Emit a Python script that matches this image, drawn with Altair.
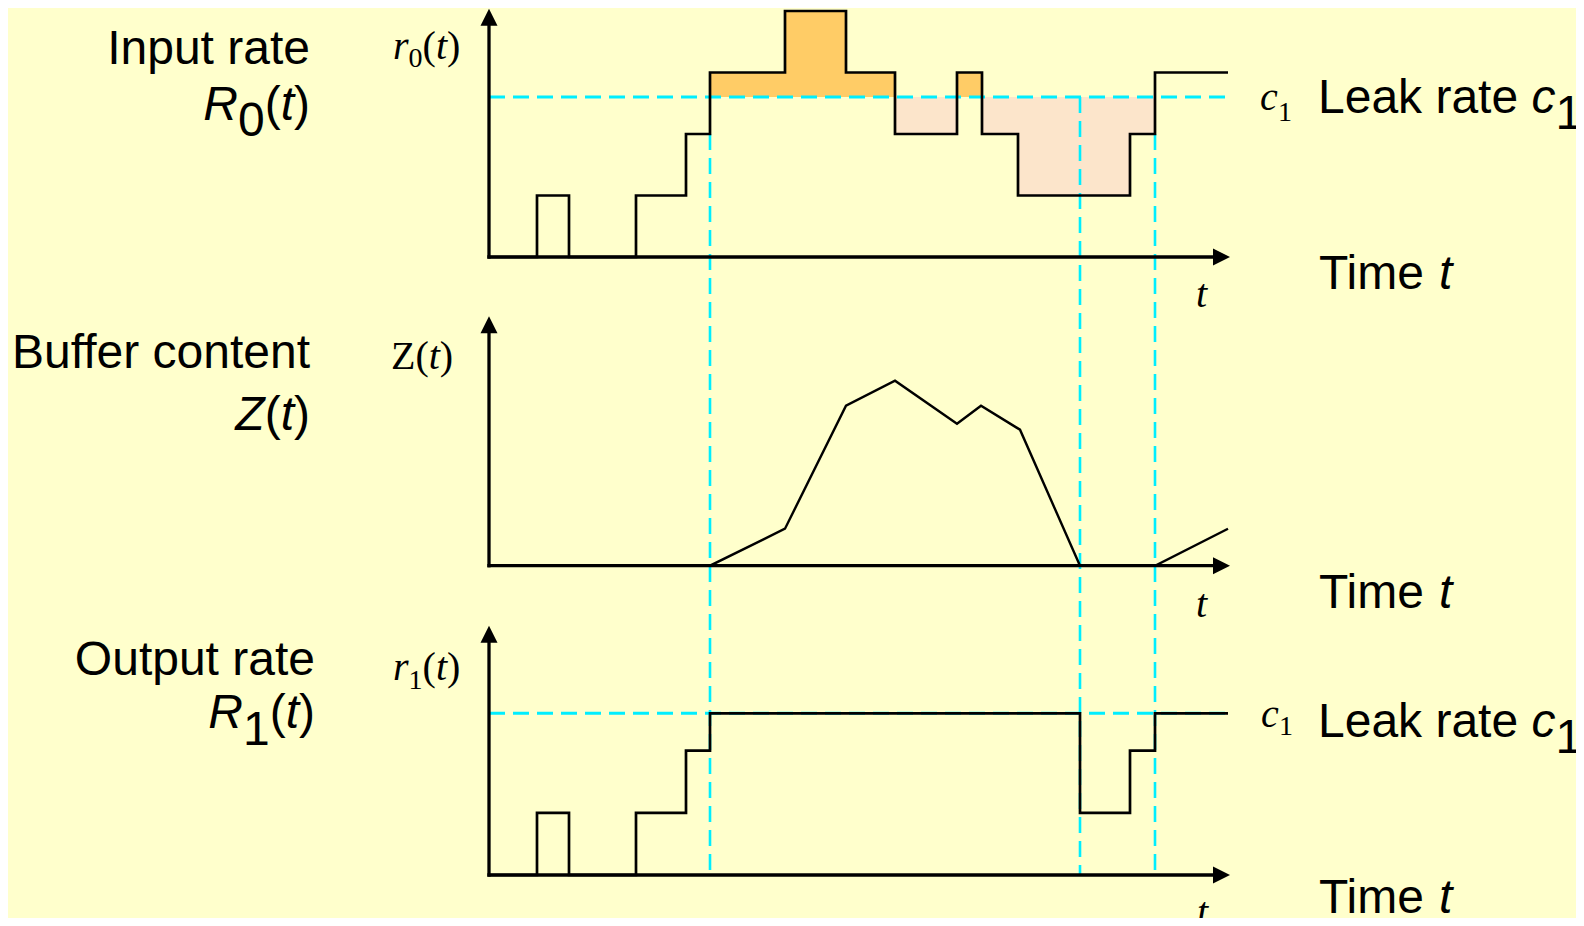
import altair as alt
import pandas as pd

# ---------------- data ----------------
# time in arbitrary units (axis origin = 0)
T_R0 = [0, 4.8, 8.0, 14.7, 19.7, 22.1, 29.6, 35.7, 40.6, 46.8, 49.3, 52.9, 64.1, 66.6, 73.9]
R0 = [0, 1, 0, 1, 2, 3, 4, 3, 2, 3, 2, 1, 2, 3, 3]          # input rate levels (step-after)

T_Z = [0, 22.1, 29.6, 35.7, 40.6, 46.8, 49.2, 53.1, 59.1, 66.6, 73.9]
Z = [0, 0, 3.7, 16.0, 18.5, 14.2, 16.0, 13.6, 0, 0, 3.7]      # buffer content

T_R1 = [0, 4.8, 8.0, 14.7, 19.7, 22.1, 59.1, 64.1, 66.6, 73.9]
R1 = [0, 1, 0, 1, 2, 2.6, 1, 2, 2.6, 2.6]                     # output rate levels (step-after)

C1 = 2.6                       # leak rate
T_END = 73.9                   # end of drawn signals
T_MARKS = [22.1, 59.1, 66.6]   # instants marked by vertical dashed lines
MARK_START = [2.0, 2.6, 2.0]   # r0 level where each marker starts
OVER_RANGE = [22.1, 49.3]      # interval where surplus (r0 > c1) is shaded
UNDER_RANGE = [40.6, 66.6]     # interval where deficit (r0 < c1) is shaded

# axis arrow extents (data units of each panel)
T_ARROW = 73.25
TOP_ARROW = 3.9
MID_ARROW = 24.1
BOT_ARROW = 3.87

# ---------------- layout ----------------
W, H = 1568, 910
PAGE = 8
X0_PX, T_PX = 481.0, 10.0
TOP_BASE_PX, TOP_UNIT = 249.0, 61.5
MID_BASE_PX, MID_UNIT = 557.7, 10.0
BOT_BASE_PX, BOT_UNIT = 867.0, 62.2

BG = "#FFFFCC"
ORANGE = "#FFCC66"
STIPPLE = "#FCE5CB"
CYAN = "#00EEFF"
SANS = "Liberation Sans"
SERIF = "Liberation Serif"
DASH = [16, 8]

XS = alt.Scale(domain=[-X0_PX / T_PX, (W - X0_PX) / T_PX], nice=False, zero=False)


def yscale(base_px, unit):
    return alt.Scale(domain=[(base_px - H) / unit, base_px / unit], nice=False, zero=False)


YT = yscale(TOP_BASE_PX, TOP_UNIT)
YM = yscale(MID_BASE_PX, MID_UNIT)
YB = yscale(BOT_BASE_PX, BOT_UNIT)


def xe(f):
    return alt.X(f, type="quantitative", scale=XS, axis=None)


def ye(f, ys):
    return alt.Y(f, type="quantitative", scale=ys, axis=None)


RIGHT_PATH = "M -1 -1 L 1 0 L -1 1 Z"
UP_PATH = "M -1 1 L 0 -1 L 1 1 Z"


def axes(ys, top_val):
    h = pd.DataFrame({"t0": [0], "t1": [T_ARROW], "v": [0]})
    v = pd.DataFrame({"t": [0], "v0": [0], "v1": [top_val]})
    hr = alt.Chart(h).mark_rule(color="black", strokeWidth=3.3, strokeCap="square").encode(
        x=xe("t0"), x2="t1", y=ye("v", ys))
    vr = alt.Chart(v).mark_rule(color="black", strokeWidth=3.3, strokeCap="square").encode(
        x=xe("t"), y=ye("v0", ys), y2="v1")
    ha = alt.Chart(pd.DataFrame({"t": [T_ARROW], "v": [0]})).mark_point(
        shape=RIGHT_PATH, size=289, filled=True, color="black", opacity=1, strokeWidth=0
    ).encode(x=xe("t"), y=ye("v", ys))
    va = alt.Chart(pd.DataFrame({"t": [0], "v": [top_val]})).mark_point(
        shape=UP_PATH, size=289, filled=True, color="black", opacity=1, strokeWidth=0
    ).encode(x=xe("t"), y=ye("v", ys))
    return [hr, vr, ha, va]


# ---------------- top panel: input rate ----------------
df_r0 = pd.DataFrame({"t": T_R0, "r": R0})
df_over = df_r0[(df_r0.t >= OVER_RANGE[0]) & (df_r0.t <= OVER_RANGE[1])].copy()
df_over["hi"] = df_over.r.clip(lower=C1)
df_under = df_r0[(df_r0.t >= UNDER_RANGE[0]) & (df_r0.t <= UNDER_RANGE[1])].copy()
df_under["lo"] = df_under.r.clip(upper=C1)
df_c1 = pd.DataFrame({"t0": [0], "t1": [T_END], "c": [C1]})
df_marks = pd.DataFrame({"t": T_MARKS, "r": MARK_START})

top = alt.layer(
    alt.Chart(df_over).mark_area(interpolate="step-after", color=ORANGE, opacity=1).encode(
        x=xe("t"), y=ye("hi", YT), y2=alt.datum(C1)),
    alt.Chart(df_under).mark_area(interpolate="step-after", color=STIPPLE, opacity=1).encode(
        x=xe("t"), y=ye("lo", YT), y2=alt.datum(C1)),
    alt.Chart(df_c1).mark_rule(color=CYAN, strokeWidth=3, strokeDash=DASH).encode(
        x=xe("t0"), x2="t1", y=ye("c", YT)),
    alt.Chart(df_marks).mark_rule(color=CYAN, strokeWidth=2.6, strokeDash=DASH).encode(
        x=xe("t"), y=ye("r", YT), y2=alt.value(BOT_BASE_PX)),
    alt.Chart(df_r0).mark_line(interpolate="step-after", color="black", strokeWidth=2.7).encode(
        x=xe("t"), y=ye("r", YT)),
    *axes(YT, TOP_ARROW),
)

# ---------------- middle panel: buffer content ----------------
df_z = pd.DataFrame({"t": T_Z, "z": Z})
mid = alt.layer(
    alt.Chart(df_z).mark_line(color="black", strokeWidth=2.4).encode(x=xe("t"), y=ye("z", YM)),
    *axes(YM, MID_ARROW),
)

# ---------------- bottom panel: output rate ----------------
df_r1 = pd.DataFrame({"t": T_R1, "r": R1})
bot = alt.layer(
    alt.Chart(df_c1).mark_rule(color=CYAN, strokeWidth=3, strokeDash=DASH).encode(
        x=xe("t0"), x2="t1", y=ye("c", YB)),
    alt.Chart(df_r1).mark_line(interpolate="step-after", color="black", strokeWidth=2.7).encode(
        x=xe("t"), y=ye("r", YB)),
    *axes(YB, BOT_ARROW),
)

# ---------------- text ----------------
DUMMY = pd.DataFrame({"k": [0]})


def label(s, x, y, size=48, font=SANS, style="normal", align="left"):
    return alt.Chart(DUMMY).mark_text(
        font=font, fontSize=size, fontStyle=style, align=align, baseline="alphabetic", color="black"
    ).encode(x=alt.value(x - PAGE), y=alt.value(y - PAGE), text=alt.value(s))


texts = [
    # left titles
    label("Input rate", 310, 64, align="right"),
    label("R", 238, 120, style="italic", align="right"),
    label("0", 264.7, 136, align="right"),
    label("(", 280.7, 120, align="right"),
    label("t", 294, 120, style="italic", align="right"),
    label(")", 310, 120, align="right"),
    label("Buffer content", 310, 368, align="right"),
    label("Z", 264.7, 430, style="italic", align="right"),
    label("(", 280.7, 430, align="right"),
    label("t", 294, 430, style="italic", align="right"),
    label(")", 310, 430, align="right"),
    label("Output rate", 315, 675, align="right"),
    label("R", 243, 728, style="italic", align="right"),
    label("1", 269.7, 745, align="right"),
    label("(", 285.7, 728, align="right"),
    label("t", 299, 728, style="italic", align="right"),
    label(")", 315, 728, align="right"),
    # axis names (serif)
    label("r", 393, 59, 40, SERIF, "italic"),
    label("0", 408.6, 67, 28, SERIF),
    label("(", 422.6, 59, 40, SERIF),
    label("t", 435.9, 59, 40, SERIF, "italic"),
    label(")", 447, 59, 40, SERIF),
    label("Z", 391, 369, 40, SERIF),
    label("(", 415.4, 369, 40, SERIF),
    label("t", 428.7, 369, 40, SERIF, "italic"),
    label(")", 439.8, 369, 40, SERIF),
    label("r", 393, 680, 40, SERIF, "italic"),
    label("1", 408.6, 689, 28, SERIF),
    label("(", 422.6, 680, 40, SERIF),
    label("t", 435.9, 680, 40, SERIF, "italic"),
    label(")", 447, 680, 40, SERIF),
    label("t", 1196, 306.5, 40, SERIF, "italic"),
    label("t", 1196, 616.5, 40, SERIF, "italic"),
    label("t", 1197, 925, 40, SERIF, "italic"),
    label("c", 1260, 110, 40, SERIF, "italic"),
    label("1", 1278, 121, 28, SERIF),
    label("c", 1261, 726.7, 40, SERIF, "italic"),
    label("1", 1279, 735, 28, SERIF),
    # right side
    label("Leak rate", 1318, 112.7),
    label("c", 1531.5, 112.7, style="italic"),
    label("1", 1555.5, 128.7),
    label("Time", 1319, 289),
    label("t", 1439, 289, style="italic"),
    label("Time", 1319, 608),
    label("t", 1439, 608, style="italic"),
    label("Time", 1319, 912.7),
    label("t", 1439, 912.7, style="italic"),
    label("Leak rate", 1318, 736.7),
    label("c", 1531.5, 736.7, style="italic"),
    label("1", 1555.5, 752.7),
]

chart = alt.layer(top, mid, bot, *texts).resolve_scale(y="independent").properties(
    width=W,
    height=H,
    autosize=alt.AutoSizeParams(type="none"),
    padding=0,
    background=BG,
).configure_view(stroke=None)

chart.save("out.html", embed_options={"renderer": "svg", "actions": False})
